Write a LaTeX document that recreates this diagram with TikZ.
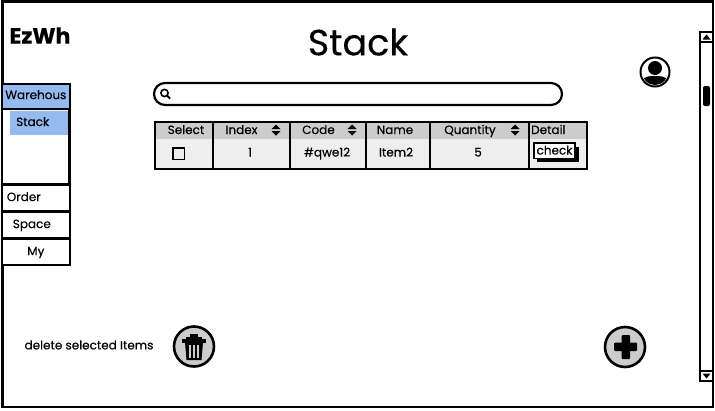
\documentclass[tikz,border=0pt]{standalone}
\usepackage{fontspec}
\setmainfont{Poppins}[FakeBold=0.3]
\usetikzlibrary{positioning, calc}
\definecolor{menublue}{HTML}{94BBF0}
\definecolor{headgray}{HTML}{CCCCCC}
\definecolor{rowgray}{HTML}{EEEEEE}
\newcommand{\sortmark}[2]{
	\fill (#1-4.5, #2-1) -- (#1+4.5, #2-1) -- (#1, #2-5.5) -- cycle;
	\fill (#1-4.5, #2+1) -- (#1+4.5, #2+1) -- (#1, #2+5.5) -- cycle;
}

\begin{document}
\begin{tikzpicture}[
		x=1pt, y=-1pt,
		frame/.style={draw, line width=2.2pt},
		menuitem/.style={draw, line width=2.2pt, fill=white, minimum width=67.5pt, minimum height=26pt, inner sep=0pt, text height=6pt, text depth=0pt, anchor=north west, font=\fontsize{12}{14}\selectfont},
		cell/.style={inner sep=0pt, anchor=base, font=\fontsize{12}{14}\selectfont},
		roundbtn/.style={circle, draw, line width=2.6pt, fill=headgray, minimum size=40pt, inner sep=0pt},
	]
	\useasboundingbox (0, 0) rectangle (715, 410);
	\draw[frame] (2.5, 1.5) rectangle (713, 407);

	% titles
	\node[font=\bfseries\fontsize{22}{24}\selectfont, inner sep=0pt] (logo) at (40, 35.5) {EzWh};
	\node[font=\fontsize{36.5}{40}\selectfont, inner sep=0pt] (title) at (358, 42) {Stack};

	% side menu
	\draw[frame, fill=white] (2, 109) rectangle (69.5, 184);
	\node[menuitem, fill=menublue, minimum height=25pt] (warehouse) at (1, 82.5) {Warehous};
	\fill[menublue] (10, 111) rectangle (68, 135);
	\node[cell, anchor=base west] (stack) at (16, 126) {Stack};
	\node[menuitem, text width=58pt, align=left] (order) at (1, 184) {Order};
	\node[menuitem] (space) at (1, 211) {\hspace{-8pt}Space};
	\node[menuitem] (my) at (1, 238) {My};

	% search
	\draw[frame, rounded corners=11pt] (154, 83) rectangle (562, 105);
	\draw[line width=1.6pt] (164.5, 93) circle (3.6);
	\draw[line width=2pt] (167.1, 95.6) -- (170, 98.6);

	% table
	\fill[rowgray] (155, 122) rectangle (587, 169);
	\fill[headgray] (155, 122) rectangle (587, 139);
	\draw[frame] (155, 122) rectangle (587, 169);
	\foreach \colx in {213, 290, 366, 430, 529}
		\draw[frame] (\colx, 122) -- (\colx, 170);
	\node[cell] (select) at (186, 134) {Select};
	\node[cell] (index) at (241.5, 134) {Index};
	\node[cell] (code) at (318.5, 134) {Code};
	\node[cell] (name) at (395, 134) {Name};
	\node[cell] (quantity) at (470, 134) {Quantity};
	\node[cell, anchor=base west] (detail) at (531, 134) {Detail};
	\sortmark{276}{130}
	\sortmark{352}{130}
	\sortmark{515}{130}
	\draw[line width=1.2pt, fill=rowgray] (173, 148) rectangle (184.5, 159.5);
	\node[cell] (index_val) at (250, 156.5) {1};
	\node[cell] (code_val) at (327, 156.5) {\#qwe12};
	\node[cell] (name_val) at (396, 156.5) {Item2};
	\node[cell] (quantity_val) at (478, 156.5) {5};
	\fill (537, 147) rectangle (578.5, 162);
	\node[draw, line width=1.5pt, fill=white, minimum width=41pt, minimum height=15.5pt, inner sep=0pt, text height=8pt, text depth=0pt, font=\fontsize{12}{14}\selectfont] (check) at (554.5, 150.5) {check};

	% user icon
	\node[circle, draw, line width=2pt, minimum size=29pt, inner sep=0pt] (user) at (655, 72) {};
	\begin{scope}
		\clip (655, 72) circle (13);
		\fill (655, 68) circle (7);
		\fill (642, 88) -- (642, 81) .. controls (644, 76) and (650, 76) .. (655, 76) .. controls (660, 76) and (666, 76) .. (668, 81) -- (668, 88) -- cycle;
	\end{scope}

	% scrollbar
	\draw[frame, fill=white] (700, 32) rectangle (713, 381);
	\draw[line width=1.2pt] (700, 42) -- (713, 42);
	\draw[line width=1.2pt] (700, 371) -- (713, 371);
	\fill (702.5, 39.5) -- (710.5, 39.5) -- (706.5, 34.5) -- cycle;
	\fill (702.5, 373.5) -- (710.5, 373.5) -- (706.5, 378.5) -- cycle;
	\fill[rounded corners=2pt] (703, 86) rectangle (710, 106);

	% bottom actions
	\node[font=\fontsize{12}{14}\selectfont, inner sep=0pt] (delete_label) at (89, 345) {delete selected Items};
	\node[roundbtn] (delete) at (194, 346.5) {};
	\fill (186, 336.5) rectangle (202, 339);
	\fill (190, 334) rectangle (198, 337);
	\fill (182, 339) rectangle (206, 342.5);
	\fill (185, 342.5) -- (203, 342.5) -- (201.5, 360) -- (186.5, 360) -- cycle;
	\foreach \barx in {190, 194, 198}
		\fill[headgray] (\barx-0.7, 345) rectangle (\barx+0.7, 357.5);
	\node[roundbtn] (add) at (625, 347) {};
	\fill[rounded corners=1pt] (621.5, 335) rectangle (630, 359);
	\fill[rounded corners=1pt] (614, 342.5) rectangle (637, 351);
\end{tikzpicture}
\end{document}
